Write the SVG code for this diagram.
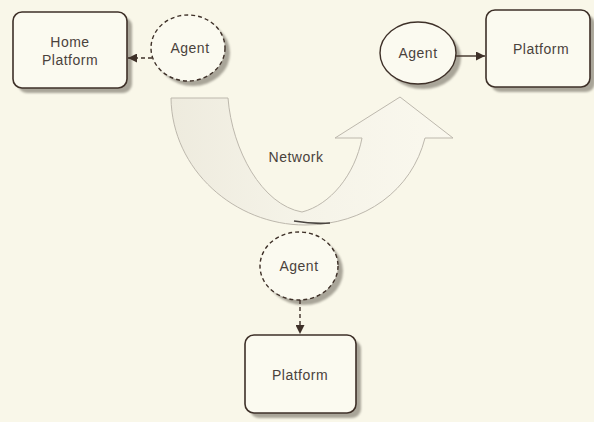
<svg xmlns="http://www.w3.org/2000/svg" width="594" height="422" viewBox="0 0 594 422">
<defs>
<style>
.bg{fill:#f9f7e9}
.box{fill:#fbfaf0;stroke:#3e3028;stroke-width:1.6}
.shadow{fill:#a9a599;filter:url(#blur)}
.agent{fill:#fbfaf0;stroke:#3e3028;stroke-width:1.4}
.dashed{stroke-dasharray:4 3}
.lbl{font-family:"Liberation Sans",Arial,sans-serif;font-size:14px;fill:#4a423c;text-anchor:middle;letter-spacing:0.5px}
.conn{stroke:#3e3028;stroke-width:1.4;fill:none}
.net{fill:url(#netg);stroke:#bdb8ad;stroke-width:1}
</style>
<filter id="blur" x="-20%" y="-20%" width="140%" height="140%"><feGaussianBlur stdDeviation="1.2"/></filter>
<linearGradient id="netg" x1="0" y1="0" x2="1" y2="0">
<stop offset="0" stop-color="#eeebde"/>
<stop offset="0.45" stop-color="#f5f3e8"/>
<stop offset="1" stop-color="#faf8ee"/>
</linearGradient>
<marker id="arr" viewBox="0 0 10 10" refX="10" refY="5" markerWidth="9" markerHeight="9" markerUnits="userSpaceOnUse" orient="auto">
<path d="M0,0 L10,5 L0,10 Z" fill="#3e3028"/>
</marker>
</defs>
<rect class="bg" x="0" y="0" width="594" height="422"/>

<g id="network">
<path class="net" d="M171,98 L228,98 C232,150 262,205 302,212 C330,205 355,175 362,138 L335,138 L400,97 L453,138 L425,138 C412,190 365,225 305,225 C235,225 172,170 171,98 Z"/>
<path d="M294,221 C306,223 318,224 330,223" stroke="#4a4540" stroke-width="1.6" fill="none"/>
<text class="lbl" x="296" y="162">Network</text>
</g>

<g id="home-platform">
<rect class="shadow" x="18" y="17" width="114" height="76" rx="9"/>
<rect class="box" x="13" y="12" width="114" height="76" rx="9"/>
<text class="lbl" x="70" y="47">Home</text>
<text class="lbl" x="70" y="65">Platform</text>
</g>

<g id="agent-left">
<ellipse class="shadow" cx="193" cy="53" rx="37" ry="33"/>
<ellipse class="agent dashed" cx="188" cy="48" rx="37" ry="33"/>
<text class="lbl" x="190" y="53">Agent</text>
</g>

<g id="agent-right">
<ellipse class="shadow" cx="423" cy="58" rx="38" ry="31"/>
<ellipse class="agent" cx="418" cy="53" rx="38" ry="31"/>
<text class="lbl" x="418" y="58">Agent</text>
</g>

<g id="platform-right">
<rect class="shadow" x="491" y="15" width="104" height="77" rx="9"/>
<rect class="box" x="486" y="10" width="104" height="77" rx="9"/>
<text class="lbl" x="541" y="54">Platform</text>
</g>

<g id="agent-bottom">
<ellipse class="shadow" cx="304" cy="271" rx="39" ry="34"/>
<ellipse class="agent dashed" cx="299" cy="266" rx="39" ry="34"/>
<text class="lbl" x="299" y="271">Agent</text>
</g>

<g id="platform-bottom">
<rect class="shadow" x="250" y="340" width="111" height="78" rx="9"/>
<rect class="box" x="245" y="335" width="111" height="78" rx="9"/>
<text class="lbl" x="300" y="380">Platform</text>
</g>

<g id="connectors">
<line class="conn dashed" x1="152" y1="58" x2="128" y2="58" marker-end="url(#arr)"/>
<line class="conn" x1="456" y1="56" x2="485" y2="56" marker-end="url(#arr)"/>
<line class="conn dashed" x1="300" y1="300" x2="300" y2="334" marker-end="url(#arr)"/>
</g>
</svg>
